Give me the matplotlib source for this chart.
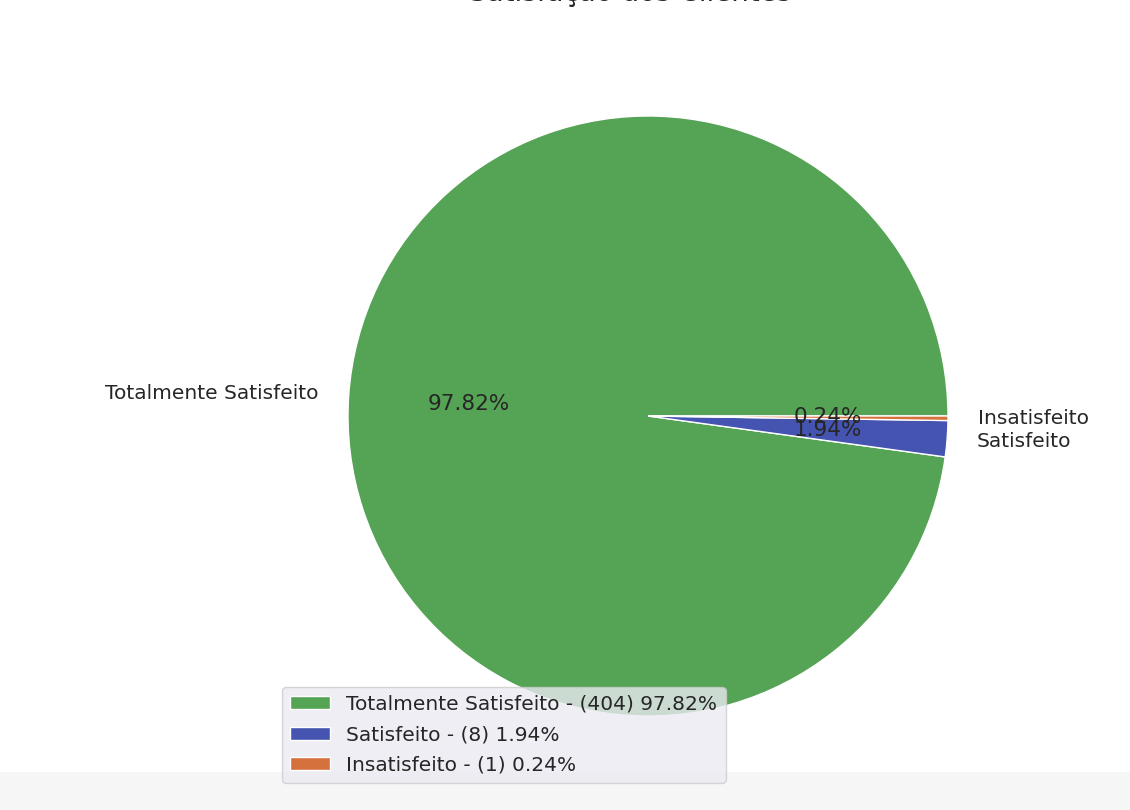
import matplotlib
matplotlib.use("Agg")
import matplotlib.pyplot as plt
from matplotlib.patches import Rectangle

categories = ["Totalmente Satisfeito", "Satisfeito", "Insatisfeito"]
counts = [404, 8, 1]
percents = [97.82, 1.94, 0.24]
colors = ["#55a355", "#4454b0", "#d5713c"]
title = "Satisfação dos Clientes"

plt.rcParams['font.family'] = ['DejaVu Sans']
plt.rcParams['text.color'] = '#262626'

fig = plt.figure(figsize=(11.3, 8.1), dpi=100)
fig.patch.set_facecolor('white')
fig.patches.append(Rectangle((0, 0), 1, 38/810, transform=fig.transFigure,
                             facecolor='#f6f6f6', edgecolor='none', zorder=-1))

ax = fig.add_axes([273/1130, 19/810, 750/1130, 750/810])
wedges, texts, autotexts = ax.pie(
    counts, labels=categories, colors=colors, startangle=0,
    autopct='%1.2f%%', wedgeprops=dict(edgecolor='white', linewidth=1),
    textprops=dict(fontsize=14.5, color='#262626'))
for t in autotexts:
    t.set_fontsize(15.5)
ax.set_aspect('equal')

legend_labels = [f"{c} - ({n}) {p:.2f}%" for c, n, p in zip(categories, counts, percents)]
leg = ax.legend(wedges, legend_labels, loc='lower left',
                bbox_to_anchor=(282/1130, 27/810), bbox_transform=fig.transFigure,
                borderaxespad=0, fontsize=14.5, facecolor='#eaeaf2', framealpha=0.8,
                edgecolor='#cccccc', handlelength=2.0, handleheight=0.6,
                labelspacing=0.58, borderpad=0.4)
for t in leg.get_texts():
    t.set_color('#262626')

fig.text(630/1130, 0.9982, title, ha='center', va='baseline', fontsize=20, color='#262626')

fig.savefig("out.png", dpi=100)
